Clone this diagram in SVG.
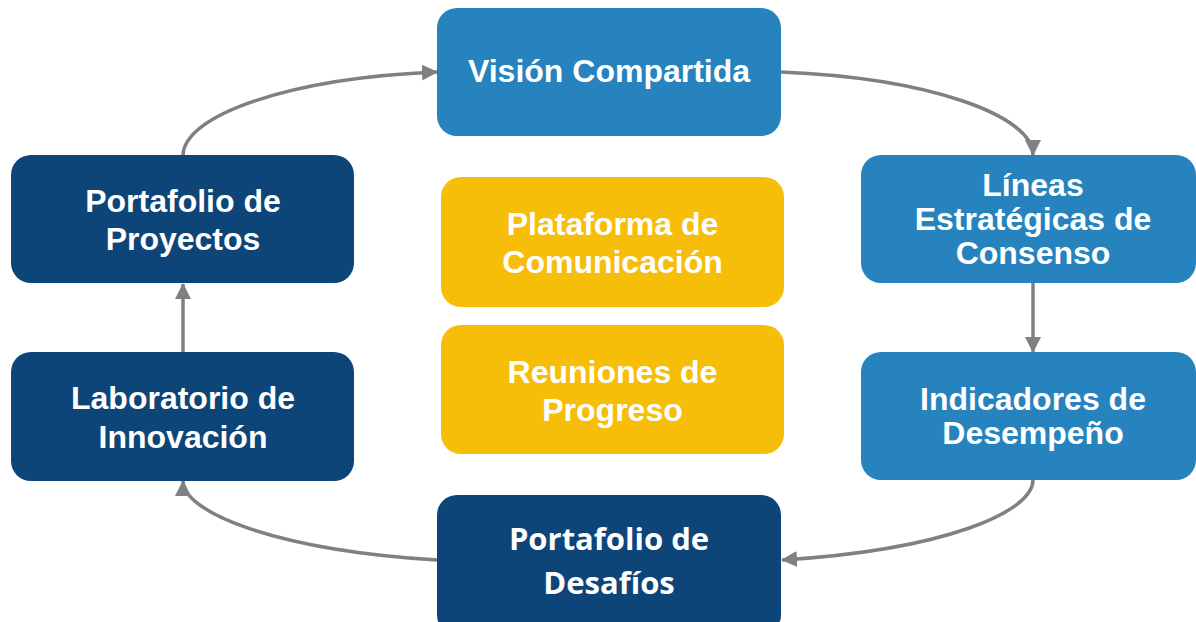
<svg xmlns="http://www.w3.org/2000/svg" width="1196" height="622" viewBox="0 0 1196 622">
<style>
.mid{fill:#2683BD}
.dark{fill:#0D4579}
.yel{fill:#F6BE09}
.t{font-family:"Liberation Sans",Arial,sans-serif;font-weight:bold;font-size:32px;fill:#FFFFFF;text-anchor:middle}
.t2{font-family:"Open Sans","Liberation Sans",sans-serif;font-weight:bold;font-size:31px;fill:#FFFFFF;text-anchor:middle}
.c{fill:none;stroke:#808080;stroke-width:3.5}
</style>
<defs>
<marker id="ah" viewBox="0 0 16 16" refX="15" refY="8" markerWidth="16" markerHeight="16" markerUnits="userSpaceOnUse" orient="auto">
<path d="M0,0 L16,8 L0,16 z" fill="#808080"/>
</marker>
</defs>
<rect width="1196" height="622" fill="#FFFFFF"/>
<g id="connectors">
<path class="c" marker-end="url(#ah)" d="M183,156 C183,115 290,78 437,72"/>
<path class="c" marker-end="url(#ah)" d="M781,72 C928,78 1033,115 1033,155"/>
<path class="c" marker-end="url(#ah)" d="M1033,283 L1033,352"/>
<path class="c" marker-end="url(#ah)" d="M1033,480 C1033,512 945,550 782,560"/>
<path class="c" marker-end="url(#ah)" d="M437,560 C274,550 183,512 183,481"/>
<path class="c" marker-end="url(#ah)" d="M183,352 L183,284"/>
</g>
<g id="vision">
<rect class="mid" x="437" y="8" width="344" height="128" rx="20"/>
<text class="t" x="609" y="82">Visión Compartida</text>
</g>
<g id="lineas">
<rect class="mid" x="861" y="155" width="335" height="128" rx="20"/>
<text class="t" x="1033" y="196">Líneas</text>
<text class="t" x="1033" y="230">Estratégicas de</text>
<text class="t" x="1033" y="264">Consenso</text>
</g>
<g id="indicadores">
<rect class="mid" x="861" y="352" width="335" height="128" rx="20"/>
<text class="t" x="1033" y="410">Indicadores de</text>
<text class="t" x="1033" y="444">Desempeño</text>
</g>
<g id="desafios">
<rect class="dark" x="437" y="495" width="344" height="140" rx="20"/>
<text class="t2" x="609" y="550">Portafolio de</text>
<text class="t2" x="609" y="594">Desafíos</text>
</g>
<g id="laboratorio">
<rect class="dark" x="11" y="352" width="343" height="129" rx="20"/>
<text class="t" x="183" y="409">Laboratorio de</text>
<text class="t" x="183" y="448">Innovación</text>
</g>
<g id="proyectos">
<rect class="dark" x="11" y="155" width="343" height="128" rx="20"/>
<text class="t" x="183" y="212">Portafolio de</text>
<text class="t" x="183" y="250">Proyectos</text>
</g>
<g id="plataforma">
<rect class="yel" x="441" y="177" width="343" height="130" rx="20"/>
<text class="t" x="612.5" y="235">Plataforma de</text>
<text class="t" x="612.5" y="273">Comunicación</text>
</g>
<g id="reuniones">
<rect class="yel" x="441" y="325" width="343" height="129" rx="20"/>
<text class="t" x="612.5" y="383">Reuniones de</text>
<text class="t" x="612.5" y="421">Progreso</text>
</g>
</svg>
